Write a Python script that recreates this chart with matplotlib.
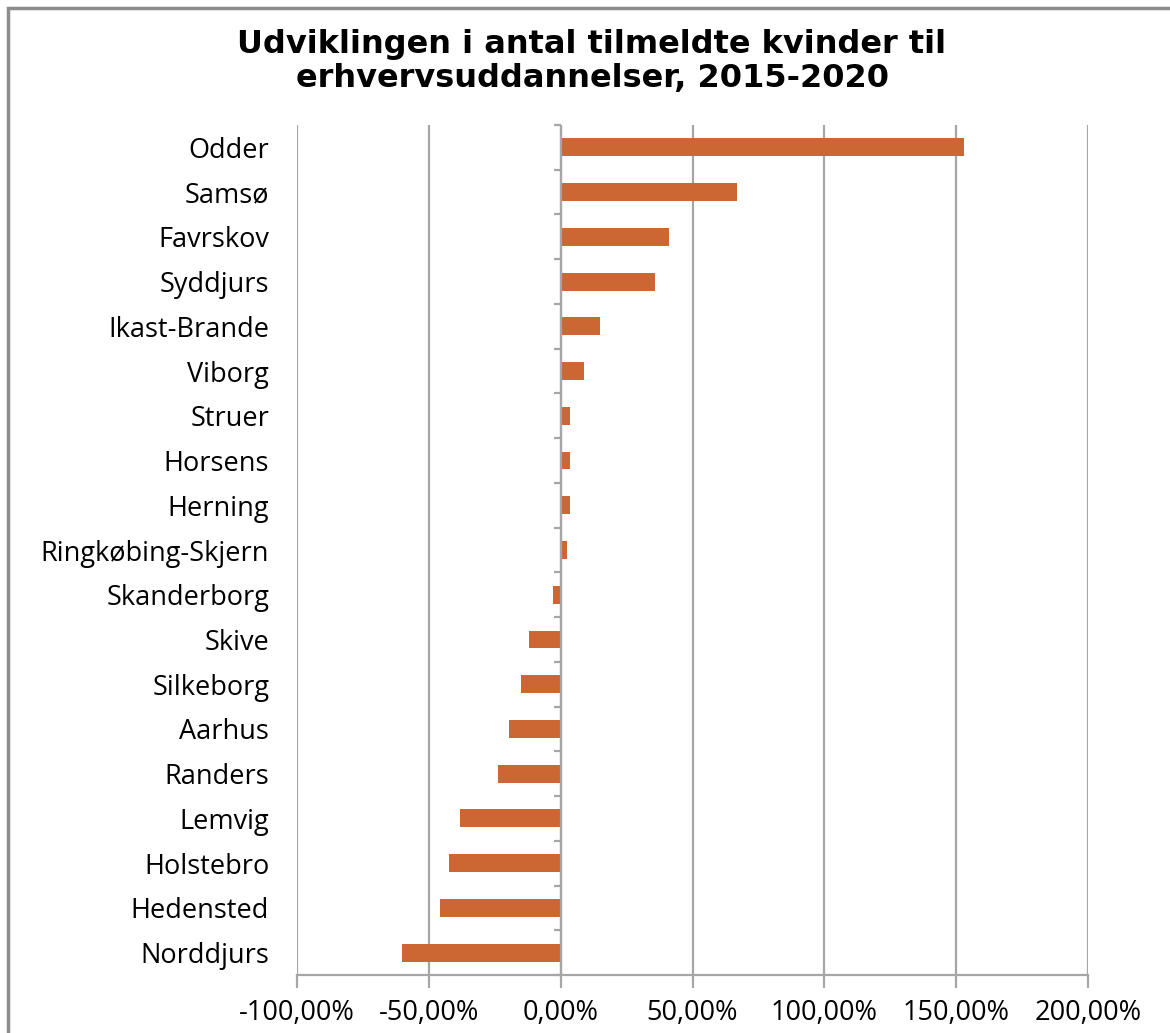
import numpy as np
import matplotlib
matplotlib.use("Agg")
import matplotlib.pyplot as plt
from matplotlib.patches import Rectangle
from matplotlib.ticker import FuncFormatter, FixedLocator

kommuner = ["Odder", "Samsø", "Favrskov", "Syddjurs", "Ikast-Brande", "Viborg",
            "Struer", "Horsens", "Herning", "Ringkøbing-Skjern", "Skanderborg",
            "Skive", "Silkeborg", "Aarhus", "Randers", "Lemvig", "Holstebro",
            "Hedensted", "Norddjurs"]
udvikling = [153.1, 66.8, 41.1, 35.8, 15.0, 9.0, 3.6, 3.6, 3.6, 2.5, -2.8,
             -12.0, -14.9, -19.7, -23.9, -38.1, -42.2, -45.8, -60.1]
xticks = [-100, -50, 0, 50, 100, 150, 200]

fig = plt.figure(figsize=(11.70, 10.33), dpi=100)
ax = fig.add_axes([297 / 1170, 1 - 975 / 1033, (1088 - 297) / 1170, (975 - 125) / 1033])

y = np.arange(len(kommuner))
ax.barh(y, udvikling, height=0.4, color="#CC6633", zorder=3)
ax.set_ylim(len(kommuner) - 0.5, -0.5)
ax.set_xlim(-100, 200)

grey = "#A6A6A6"
ax.xaxis.set_major_locator(FixedLocator(xticks))
ax.xaxis.set_major_formatter(FuncFormatter(lambda v, p: f"{v:.2f}%".replace(".", ",")))
for v in xticks:
    ax.axvline(v, color=grey, lw=1.6, zorder=1)

for s in ["top", "right", "left"]:
    ax.spines[s].set_visible(False)
ax.spines["bottom"].set_color(grey)
ax.spines["bottom"].set_linewidth(1.6)
ax.tick_params(axis="x", length=9, width=1.6, color=grey, labelsize=19.5,
               pad=8, labelcolor="black")

# category axis at zero with tick marks between categories
ax.axvline(0, color=grey, lw=1.6, zorder=4)
for b in np.arange(-0.5, len(kommuner), 1.0):
    ax.plot([-2.6, 0], [b, b], color=grey, lw=1.6, zorder=4, clip_on=False,
            solid_capstyle="butt")

ax.set_yticks(y)
ax.set_yticklabels(kommuner)
ax.tick_params(axis="y", length=0, labelsize=19.5, pad=20)
for lab in ax.get_xticklabels() + ax.get_yticklabels():
    lab.set_fontfamily("Open Sans")

fig.text(0.506, 0.9405, "Udviklingen i antal tilmeldte kvinder til\nerhvervsuddannelser, 2015-2020",
         ha="center", va="center", fontsize=23, fontweight="bold",
         family="DejaVu Sans", linespacing=1.12)

fig.patches.append(Rectangle((8 / 1170, -0.1), 1.2, 1 - 8 / 1033 + 0.1,
                             transform=fig.transFigure, fill=False,
                             edgecolor="#8C8C8C", lw=2.5))

fig.savefig("out.png", dpi=100)
